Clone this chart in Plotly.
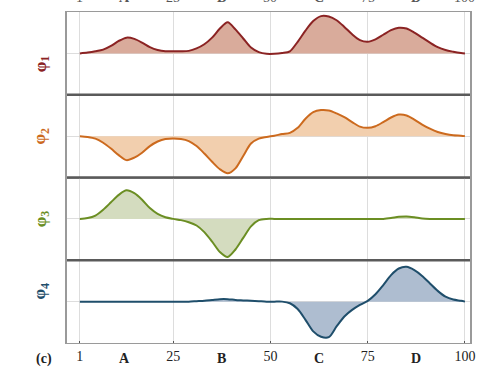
import plotly.graph_objects as go
from plotly.subplots import make_subplots

# sample positions along the sequence (1..100)
x_pos = [1, 3, 5, 7, 9, 11, 13, 15, 17, 19, 21, 23, 25, 27, 29, 31, 33, 35, 37, 39,
         41, 43, 45, 47, 49, 51, 53, 55, 57, 59, 61, 63, 65, 67, 69, 71, 73, 75, 77, 79,
         81, 83, 85, 87, 89, 91, 93, 95, 97, 99, 100]

phi1 = [0.00, 0.02, 0.05, 0.09, 0.18, 0.30, 0.38, 0.35, 0.26, 0.15, 0.08, 0.05, 0.05, 0.05,
        0.06, 0.12, 0.22, 0.38, 0.60, 0.75, 0.58, 0.36, 0.14, 0.03, -0.01, -0.01, 0.01, 0.05,
        0.28, 0.55, 0.78, 0.90, 0.89, 0.80, 0.64, 0.46, 0.32, 0.28, 0.34, 0.45, 0.56, 0.62,
        0.60, 0.50, 0.38, 0.26, 0.15, 0.08, 0.04, 0.01, 0.00]

phi2 = [0.00, -0.02, -0.06, -0.16, -0.30, -0.46, -0.58, -0.52, -0.40, -0.24, -0.13, -0.07,
        -0.06, -0.07, -0.12, -0.24, -0.42, -0.62, -0.80, -0.90, -0.78, -0.48, -0.18, -0.06,
        -0.02, 0.01, 0.05, 0.08, 0.20, 0.42, 0.58, 0.63, 0.62, 0.55, 0.46, 0.34, 0.23, 0.20,
        0.24, 0.34, 0.45, 0.52, 0.50, 0.40, 0.28, 0.18, 0.10, 0.05, 0.02, 0.01, 0.00]

phi3 = [0.00, 0.02, 0.08, 0.22, 0.40, 0.58, 0.69, 0.62, 0.46, 0.26, 0.12, 0.04, 0.00, -0.03,
        -0.08, -0.16, -0.32, -0.55, -0.80, -0.92, -0.74, -0.46, -0.18, -0.03, 0.00, 0.00,
        0.00, 0.00, 0.00, 0.00, 0.00, 0.00, 0.00, 0.00, 0.00, 0.00, 0.00, 0.00, 0.00, 0.00,
        0.02, 0.05, 0.06, 0.04, 0.01, 0.00, 0.00, 0.00, 0.00, 0.00, 0.00]

phi4 = [0.00, 0.00, 0.00, 0.00, 0.00, 0.00, 0.00, 0.00, 0.00, 0.00, 0.00, 0.00, 0.00, 0.00,
        0.00, 0.01, 0.02, 0.04, 0.06, 0.06, 0.04, 0.03, 0.02, 0.01, 0.00, 0.00, 0.00, -0.04,
        -0.18, -0.44, -0.72, -0.85, -0.86, -0.60, -0.36, -0.20, -0.08, 0.02, 0.18, 0.40,
        0.64, 0.80, 0.84, 0.76, 0.62, 0.44, 0.26, 0.12, 0.05, 0.02, 0.00]

series_names = ["φ<sub>1</sub>", "φ<sub>2</sub>", "φ<sub>3</sub>", "φ<sub>4</sub>"]
line_colors = ["#8b2323", "#cc6a1e", "#6b8e23", "#1f4e6b"]
fill_colors = ["#d9ab9b", "#f2cfae", "#d4dcbf", "#aebdd0"]

num_ticks = [1, 25, 50, 75, 100]
region_labels = ["A", "B", "C", "D"]
region_pos = [12.5, 37.5, 62.5, 87.5]

SERIF = "Liberation Serif, Times New Roman, serif"

fig = make_subplots(rows=4, cols=1, shared_xaxes=True, vertical_spacing=0)

for i, ys in enumerate([phi1, phi2, phi3, phi4]):
    fig.add_trace(go.Scatter(
        x=x_pos, y=ys, mode="lines", line=dict(color=line_colors[i], width=2, shape="spline", smoothing=0.8),
        fill="tozeroy", fillcolor=fill_colors[i], showlegend=False, hoverinfo="skip"),
        row=i + 1, col=1)

for i in range(4):
    fig.update_yaxes(range=[-1, 1], showticklabels=False, ticks="", showgrid=False,
                     zeroline=True, zerolinecolor="#dddddd", zerolinewidth=1,
                     showline=True, mirror=True, linecolor="#9a9a9a", linewidth=2,
                     row=i + 1, col=1)
    fig.update_xaxes(range=[-2.3, 101.3], tickvals=num_ticks, showgrid=True,
                     gridcolor="#dddddd", gridwidth=1, zeroline=False,
                     showline=True, mirror=True, linecolor="#9a9a9a", linewidth=1,
                     showticklabels=(i == 3), row=i + 1, col=1)

fig.update_xaxes(ticks="inside", ticklen=2, tickcolor="#555555",
                 tickfont=dict(family=SERIF, size=14, color="#222222"), row=4, col=1)

# darker separators between stacked panels
for yb in [0.25, 0.5, 0.75]:
    fig.add_shape(type="line", xref="paper", yref="paper", x0=0, x1=1, y0=yb, y1=yb,
                  line=dict(color="#5a5a5a", width=2.5))

annotations = []
# rotated panel labels
for i, name in enumerate(series_names):
    yc = 1 - (i + 0.5) / 4
    annotations.append(dict(text="<b>%s</b>" % name, xref="paper", yref="paper", x=-0.066, y=yc,
                            xshift=-12, showarrow=False, textangle=-90,
                            font=dict(family=SERIF, size=17, color=line_colors[i])))

# bold region letters on the bottom axis
for lab, pos in zip(region_labels, region_pos):
    annotations.append(dict(text="<b>%s</b>" % lab, xref="x4", yref="paper", x=pos, y=0,
                            yshift=-6, yanchor="top", showarrow=False,
                            font=dict(family=SERIF, size=14, color="#222222")))

# axis labels of the panel above, mostly hidden past the top edge
for lab, pos in zip(["1", "A", "25", "B", "50", "C", "75", "D", "100"],
                    [1, 12.5, 25, 37.5, 50, 62.5, 75, 87.5, 100]):
    annotations.append(dict(text=lab if lab.isdigit() else "<b>%s</b>" % lab,
                            xref="x", yref="paper", x=pos, y=1, yshift=5.5,
                            yanchor="bottom", showarrow=False,
                            font=dict(family=SERIF, size=14, color="#555555")))

annotations.append(dict(text="<b>(c)</b>", xref="paper", yref="paper", x=-0.083, y=0,
                        yshift=-6, yanchor="top", showarrow=False,
                        font=dict(family=SERIF, size=14, color="#222222")))

fig.update_layout(width=481, height=370, margin=dict(l=67, r=6, t=12, b=27),
                  paper_bgcolor="white", plot_bgcolor="white",
                  annotations=annotations)

fig.write_html("out.html")
